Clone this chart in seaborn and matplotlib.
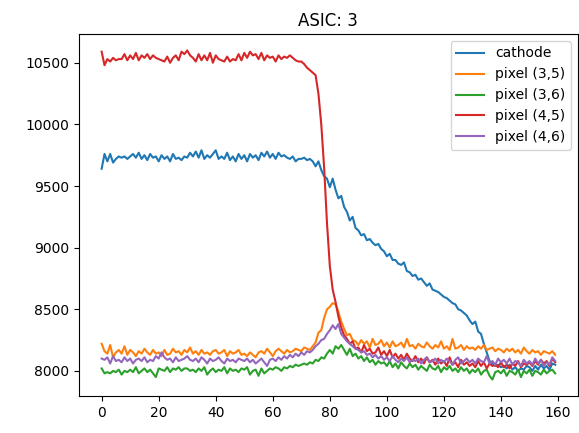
import numpy as np
import pandas as pd
import matplotlib
matplotlib.use('Agg')
import matplotlib.pyplot as plt
import seaborn as sns

# Valores (160 muestras, x = 0..159)
cathode = [
    9640, 9760, 9700, 9760, 9690, 9720, 9740, 9730, 9740, 9720,
    9740, 9760, 9730, 9770, 9720, 9750, 9710, 9760, 9730, 9740,
    9700, 9750, 9720, 9740, 9700, 9760, 9720, 9730, 9710, 9740,
    9730, 9770, 9740, 9780, 9730, 9790, 9720, 9750, 9730, 9760,
    9790, 9720, 9740, 9720, 9770, 9710, 9740, 9700, 9760, 9720,
    9750, 9700, 9760, 9730, 9750, 9710, 9770, 9740, 9780, 9730,
    9760, 9720, 9770, 9740, 9750, 9730, 9720, 9740, 9700, 9720,
    9720, 9730, 9710, 9720, 9700, 9660, 9700, 9630, 9580, 9560,
    9490, 9560, 9470, 9400, 9420, 9330, 9290, 9220, 9250, 9160,
    9140, 9100, 9110, 9060, 9070, 9040, 9020, 9030, 8990, 8970,
    8930, 8950, 8900, 8900, 8870, 8860, 8880, 8810, 8800, 8770,
    8780, 8740, 8750, 8720, 8690, 8710, 8660, 8650, 8640, 8620,
    8600, 8590, 8570, 8550, 8540, 8500, 8490, 8470, 8450, 8410,
    8380, 8400, 8320, 8300, 8220, 8150, 8080, 8060, 8040, 8050,
    8030, 8040, 8020, 8050, 8010, 8030, 8000, 8020, 8010, 8040,
    8030, 8000, 8040, 8010, 8050, 8020, 8040, 8010, 8060, 8050,
]

pixel_35 = [
    8220, 8160, 8140, 8210, 8110, 8150, 8170, 8140, 8200, 8130,
    8170, 8150, 8120, 8160, 8140, 8180, 8150, 8130, 8170, 8140,
    8150, 8120, 8170, 8130, 8140, 8180, 8150, 8160, 8130, 8170,
    8150, 8190, 8140, 8160, 8130, 8170, 8140, 8150, 8130, 8160,
    8170, 8140, 8150, 8170, 8120, 8160, 8140, 8150, 8170, 8130,
    8140, 8120, 8150, 8130, 8110, 8150, 8160, 8140, 8180, 8150,
    8120, 8160, 8180, 8160, 8140, 8170, 8150, 8160, 8180, 8170,
    8160, 8190, 8180, 8170, 8200, 8230, 8310, 8330, 8430, 8500,
    8520, 8550, 8540, 8480, 8400, 8340, 8290, 8300, 8250, 8240,
    8210, 8250, 8220, 8240, 8190, 8260, 8210, 8220, 8250, 8200,
    8230, 8190, 8240, 8200, 8210, 8230, 8190, 8260, 8200, 8210,
    8180, 8220, 8200, 8190, 8230, 8200, 8180, 8210, 8190, 8240,
    8180, 8200, 8170, 8260, 8180, 8190, 8210, 8170, 8200, 8180,
    8190, 8170, 8200, 8180, 8210, 8170, 8180, 8190, 8160, 8180,
    8170, 8150, 8180, 8160, 8180, 8150, 8170, 8140, 8190, 8160,
    8140, 8170, 8150, 8160, 8130, 8160, 8150, 8140, 8160, 8130,
]

pixel_36 = [
    8020, 7980, 7990, 7980, 8000, 7990, 8010, 7970, 8000, 7990,
    8010, 7990, 8030, 7980, 8000, 8020, 7990, 8010, 7980, 7950,
    8020, 8010, 8000, 8030, 7990, 8020, 8010, 8030, 8000, 8020,
    8020, 8000, 8010, 7990, 8020, 8000, 8030, 7970, 8000, 8020,
    7990, 8010, 8000, 8030, 7980, 8020, 8000, 8010, 7990, 8020,
    8010, 8030, 7970, 8000, 8010, 7960, 8020, 7980, 8000, 8020,
    8010, 8030, 8020, 8000, 8030, 8020, 8040, 8030, 8050, 8040,
    8050, 8060, 8050, 8070, 8060, 8090, 8080, 8110, 8100, 8140,
    8170, 8140, 8200, 8180, 8210, 8170, 8130, 8180, 8120, 8140,
    8100, 8120, 8080, 8110, 8070, 8090, 8050, 8080, 8060, 8070,
    8040, 8080, 8030, 8060, 8020, 8070, 8040, 8020, 8060, 8030,
    8050, 8010, 8040, 8020, 8000, 8050, 8020, 8010, 8040, 7990,
    8030, 8010, 8040, 8000, 8020, 7990, 8030, 8000, 8020, 7980,
    8010, 7990, 8020, 7970, 8000, 8010, 7960, 7930, 7990, 8000,
    7980, 8010, 7960, 8000, 7990, 7970, 8010, 7950, 8000, 7980,
    8010, 7960, 8000, 7990, 7970, 8010, 7980, 8000, 8010, 7980,
]

pixel_45 = [
    10590, 10480, 10530, 10510, 10540, 10520, 10530, 10530, 10570, 10520,
    10560, 10530, 10580, 10520, 10560, 10540, 10570, 10530, 10560, 10540,
    10530, 10520, 10510, 10550, 10500, 10540, 10560, 10520, 10590, 10570,
    10600, 10560, 10540, 10510, 10570, 10520, 10560, 10520, 10580, 10500,
    10560, 10530, 10520, 10510, 10550, 10510, 10530, 10520, 10570, 10520,
    10580, 10540, 10590, 10560, 10570, 10530, 10580, 10520, 10560, 10540,
    10550, 10510, 10560, 10530, 10550, 10540, 10560, 10540, 10520, 10510,
    10510, 10490, 10460, 10440, 10420, 10400, 10250, 10000, 9650, 9200,
    8850, 8660, 8560, 8440, 8350, 8290, 8260, 8220, 8240, 8180,
    8190, 8150, 8210, 8160, 8180, 8140, 8150, 8190, 8130, 8160,
    8120, 8170, 8110, 8140, 8100, 8130, 8090, 8140, 8100, 8080,
    8120, 8070, 8100, 8060, 8110, 8070, 8090, 8050, 8100, 8060,
    8080, 8040, 8110, 8050, 8070, 8030, 8090, 8050, 8070, 8040,
    8060, 8030, 8080, 8040, 8070, 8020, 8060, 8040, 8050, 8030,
    8070, 8030, 8050, 8020, 8060, 8040, 8080, 8030, 8060, 8050,
    8070, 8040, 8080, 8050, 8090, 8060, 8080, 8040, 8100, 8070,
]

pixel_46 = [
    8100, 8090, 8110, 8060, 8120, 8080, 8090, 8070, 8110, 8080,
    8100, 8060, 8090, 8100, 8080, 8110, 8070, 8090, 8080, 8120,
    8100, 8150, 8110, 8090, 8100, 8070, 8110, 8080, 8090, 8100,
    8120, 8090, 8080, 8100, 8070, 8110, 8090, 8060, 8100, 8080,
    8090, 8110, 8080, 8060, 8100, 8080, 8090, 8070, 8100, 8090,
    8080, 8100, 8070, 8090, 8060, 8080, 8100, 8070, 8040, 8090,
    8100, 8080, 8110, 8090, 8120, 8100, 8130, 8110, 8140, 8120,
    8150, 8130, 8160, 8150, 8170, 8200, 8220, 8250, 8260, 8300,
    8330, 8370, 8340, 8380, 8300, 8270, 8240, 8220, 8200, 8180,
    8170, 8150, 8160, 8130, 8140, 8110, 8130, 8100, 8120, 8090,
    8110, 8080, 8120, 8090, 8070, 8100, 8080, 8110, 8070, 8090,
    8080, 8100, 8060, 8090, 8110, 8070, 8080, 8100, 8060, 8090,
    8070, 8100, 8080, 8050, 8090, 8110, 8060, 8080, 8100, 8070,
    8090, 8060, 8100, 8080, 8070, 8120, 8060, 8080, 8050, 8100,
    8070, 8090, 8060, 8100, 8050, 8080, 8070, 8040, 8090, 8060,
    8080, 8050, 8100, 8060, 8090, 8040, 8070, 8050, 8110, 8080,
]

labels = ['cathode', 'pixel (3,5)', 'pixel (3,6)', 'pixel (4,5)', 'pixel (4,6)']
series = [cathode, pixel_35, pixel_36, pixel_45, pixel_46]

# Formato largo para seaborn
frames = []
for label, values in zip(labels, series):
    frames.append(pd.DataFrame({'sample': np.arange(len(values)), 'adc': values, 'canal': label}))
df = pd.concat(frames, ignore_index=True)

fig = plt.figure(figsize=(5.79, 4.33), dpi=100)
ax = fig.add_axes([0.1364, 0.0855, 0.8616, 0.836])

sns.lineplot(data=df, x='sample', y='adc', hue='canal', hue_order=labels,
             palette=sns.color_palette('tab10', 5), linewidth=1.5, ax=ax)

ax.set_xlabel('')
ax.set_ylabel('')
ax.set_title('ASIC: 3', fontsize=12)
ax.set_xticks(range(0, 161, 20))
ax.legend(loc='upper right', title=None)

fig.savefig('out.png', dpi=100)
